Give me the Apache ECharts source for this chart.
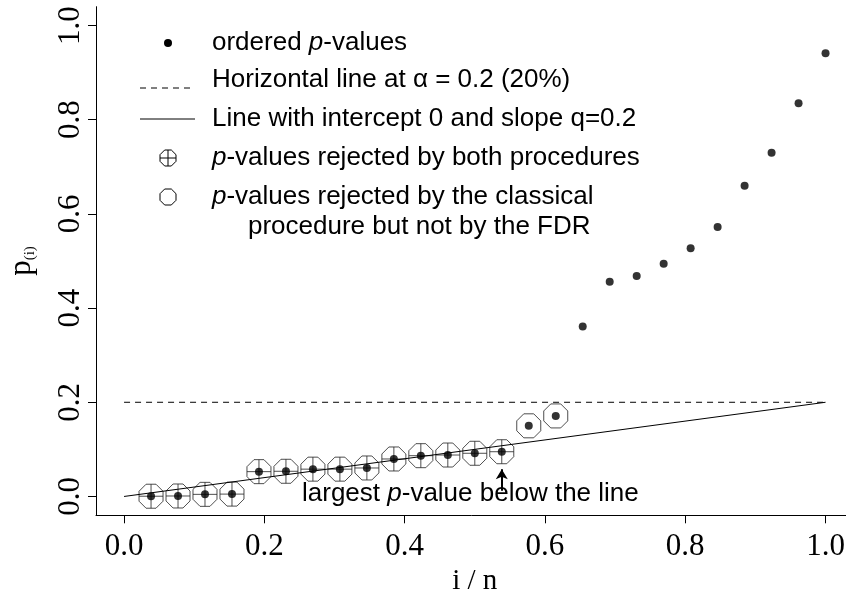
<!DOCTYPE html>
<html>
<head>
<meta charset="utf-8">
<script src="https://cdn.jsdelivr.net/npm/echarts@6/dist/echarts.min.js"></script>
<style>html,body{margin:0;padding:0;background:#fff}#c{width:846px;height:596px}</style>
</head>
<body>
<div id="c"></div>
<script>
// ---- data ----
var n = 26;
var pValues = [0.0005, 0.001, 0.0045, 0.005, 0.0527, 0.0535, 0.058, 0.058, 0.0605, 0.0796,
               0.0866, 0.088, 0.0917, 0.095, 0.150, 0.171, 0.361, 0.456, 0.468, 0.494,
               0.527, 0.572, 0.660, 0.730, 0.835, 0.941];
var rejectedBoth = 14;        // first 14 rejected by both procedures
var rejectedClassicalOnly = 2; // next 2 rejected by classical only
var alpha = 0.2;
var q = 0.2;
var tickValues = [0, 0.2, 0.4, 0.6, 0.8, 1.0];
var largestBelowIndex = 14;   // i of largest p-value below line

var pts = pValues.map(function (p, k) { return [(k + 1) / n, p]; });
var bothPts = pts.slice(0, rejectedBoth);
var classPts = pts.slice(rejectedBoth, rejectedBoth + rejectedClassicalOnly);

var oct = 'M29.3,0 L70.7,0 L100,29.3 L100,70.7 L70.7,100 L29.3,100 L0,70.7 L0,29.3 Z';
var octCross = 'path://' + oct + ' M50,0 L50,100 M0,50 L100,50';
var octPlain = 'path://' + oct;

var serif = '"Liberation Serif", "DejaVu Serif", serif';
var sans = '"Liberation Sans", Arial, sans-serif';

var chart = echarts.init(document.getElementById('c'), null, {renderer: 'canvas'});
var ax = (largestBelowIndex) / n;

function octPoints(cx, cy, s) {
  var h = s / 2, c = s * (0.5 - 0.2929);
  return [[cx - h + s * 0.2929, cy - h], [cx + h - s * 0.2929, cy - h], [cx + h, cy - c], [cx + h, cy + c],
          [cx + h - s * 0.2929, cy + h], [cx - h + s * 0.2929, cy + h], [cx - h, cy + c], [cx - h, cy - c]];
}

var legX = 168, txtX = 212, fs = 26;
var rows = [43, 80, 119, 158, 197];
function rt(t) { return {i: {fontStyle: 'italic', fontSize: fs, fontFamily: sans}}; }
var graphics = [
  {type: 'circle', shape: {cx: legX, cy: rows[0], r: 4}, style: {fill: '#000'}},
  {type: 'line', shape: {x1: 140, y1: rows[1] + 8, x2: 195, y2: rows[1] + 8}, style: {stroke: '#000', lineWidth: 1, lineDash: [6, 5]}},
  {type: 'line', shape: {x1: 140, y1: rows[2], x2: 195, y2: rows[2]}, style: {stroke: '#000', lineWidth: 1}},
  {type: 'polygon', shape: {points: octPoints(legX, rows[3], 16)}, style: {fill: 'none', stroke: '#000', lineWidth: 1}},
  {type: 'line', shape: {x1: legX, y1: rows[3] - 8, x2: legX, y2: rows[3] + 8}, style: {stroke: '#000', lineWidth: 1}},
  {type: 'line', shape: {x1: legX - 8, y1: rows[3], x2: legX + 8, y2: rows[3]}, style: {stroke: '#000', lineWidth: 1}},
  {type: 'polygon', shape: {points: octPoints(legX, rows[4], 16)}, style: {fill: 'none', stroke: '#000', lineWidth: 1}},
  {type: 'text', x: txtX, y: rows[0], style: {text: 'ordered {i|p}-values', font: fs + 'px ' + sans, fill: '#000', verticalAlign: 'middle', rich: rt()}},
  {type: 'text', x: txtX, y: rows[1], style: {text: 'Horizontal line at \u03b1 = 0.2 (20%)', font: fs + 'px ' + sans, fill: '#000', verticalAlign: 'middle'}},
  {type: 'text', x: txtX, y: rows[2], style: {text: 'Line with intercept 0 and slope q=0.2', font: fs + 'px ' + sans, fill: '#000', verticalAlign: 'middle'}},
  {type: 'text', x: txtX, y: rows[3], style: {text: '{i|p}-values rejected by both procedures', font: fs + 'px ' + sans, fill: '#000', verticalAlign: 'middle', rich: rt()}},
  {type: 'text', x: txtX, y: rows[4], style: {text: '{i|p}-values rejected by the classical', font: fs + 'px ' + sans, fill: '#000', verticalAlign: 'middle', rich: rt()}},
  {type: 'text', x: 248, y: 227, style: {text: 'procedure but not by the FDR', font: fs + 'px ' + sans, fill: '#000', verticalAlign: 'middle'}},
  {type: 'text', x: 302, y: 494, style: {text: 'largest {i|p}-value below the line', font: fs + 'px ' + sans, fill: '#000', verticalAlign: 'middle', rich: rt()}},
  {type: 'text', x: 22, y: 261, rotation: Math.PI / 2, style: {text: '{p|p}{s|(i)}', fill: '#000', align: 'center', verticalAlign: 'middle', rich: {p: {fontSize: 31, fontFamily: serif}, s: {fontSize: 15, fontFamily: serif, padding: [16, 0, 0, 0]}}}}
];

chart.setOption({
  animation: false,
  backgroundColor: '#fff',
  grid: {left: 96, top: 6.7, width: 757.6, height: 508.6, containLabel: false, outerBoundsMode: 'none'},
  xAxis: {
    type: 'value', min: -0.04, max: 1.04,
    name: 'i / n', nameLocation: 'middle', nameGap: 52,
    nameTextStyle: {fontFamily: serif, fontSize: 29, color: '#000'},
    axisLine: {show: true, onZero: false, lineStyle: {color: '#000', width: 1}},
    axisTick: {show: true, customValues: tickValues, length: 8, lineStyle: {color: '#000'}},
    axisLabel: {customValues: tickValues, formatter: function (v) { return v.toFixed(1); }, fontFamily: serif, fontSize: 31, color: '#000', margin: 16},
    splitLine: {show: false}
  },
  yAxis: {
    type: 'value', min: -0.04, max: 1.04,
    axisLine: {show: true, onZero: false, lineStyle: {color: '#000', width: 1}},
    axisTick: {show: true, customValues: tickValues, length: 8, lineStyle: {color: '#000'}},
    axisLabel: {customValues: tickValues, rotate: 90, formatter: function (v) { return v.toFixed(1); }, fontFamily: serif, fontSize: 31, color: '#000', margin: 10},
    splitLine: {show: false}
  },
  series: [
    {type: 'line', data: [[0, alpha], [1, alpha]], symbol: 'none', lineStyle: {color: '#000', width: 1, type: [6, 5]}, z: 2},
    {type: 'line', data: [[0, 0], [1, q]], symbol: 'none', lineStyle: {color: '#000', width: 1}, z: 4,
     markLine: {silent: true, symbol: ['none', 'arrow'], symbolSize: [9, 10], label: {show: false},
       lineStyle: {color: '#000', width: 2, type: 'solid'},
       data: [[{coord: [ax, 0.012]}, {coord: [ax, 0.058]}]]}},
    {type: 'scatter', data: bothPts, symbol: octCross, symbolSize: 24,
     itemStyle: {color: 'rgba(0,0,0,0)', borderColor: '#222', borderWidth: 1}, z: 3},
    {type: 'scatter', data: classPts, symbol: octPlain, symbolSize: 24,
     itemStyle: {color: 'rgba(0,0,0,0)', borderColor: '#222', borderWidth: 1}, z: 3},
    {type: 'scatter', data: pts, symbol: 'circle', symbolSize: 8, itemStyle: {color: '#000'}, z: 5}
  ],
  graphic: graphics
});
</script>
</body>
</html>
